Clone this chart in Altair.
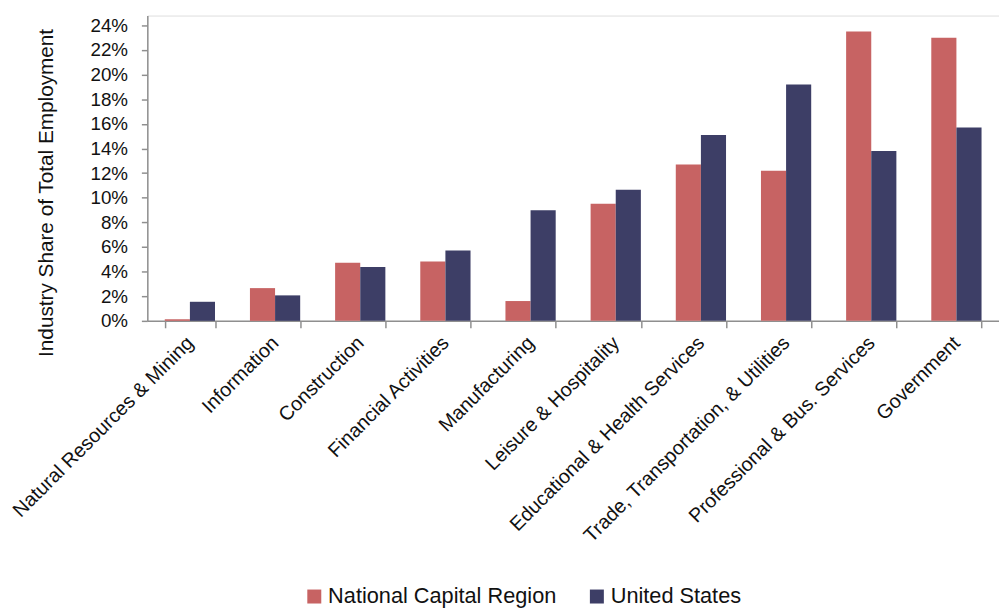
import altair as alt
import pandas as pd

categories = [
    "Natural Resources & Mining",
    "Information",
    "Construction",
    "Financial Activities",
    "Manufacturing",
    "Leisure & Hospitality",
    "Educational & Health Services",
    "Trade, Transportation, & Utilities",
    "Professional & Bus. Services",
    "Government",
]
series = ["National Capital Region", "United States"]
ncr_share = [0.13, 2.66, 4.73, 4.83, 1.61, 9.52, 12.7, 12.2, 23.5, 23.0]
us_share = [1.55, 2.07, 4.37, 5.72, 8.99, 10.65, 15.1, 19.2, 13.8, 15.7]
y_ticks = [0, 2, 4, 6, 8, 10, 12, 14, 16, 18, 20, 22, 24]
colors = ["#C76363", "#3D3E66"]

rows = []
for c, a, b in zip(categories, ncr_share, us_share):
    rows.append({"Industry": c, "Series": series[0], "Share": a / 100})
    rows.append({"Industry": c, "Series": series[1], "Share": b / 100})
df = pd.DataFrame(rows)

FONT = "Liberation Sans"
AXIS_GRAY = "#8f8f8f"

chart = (
    alt.Chart(df)
    .mark_bar()
    .encode(
        x=alt.X(
            "Industry:N",
            sort=categories,
            scale=alt.Scale(paddingInner=0.41, paddingOuter=0.205),
            axis=alt.Axis(
                title=None,
                labelAngle=-45,
                labelAlign="right",
                labelBaseline="middle",
                labelFontSize=20,
                labelColor="#111111",
                labelPadding=12,
                tickBand="extent",
                tickSize=7,
                tickColor=AXIS_GRAY,
                tickWidth=1.5,
                domainColor=AXIS_GRAY,
                domainWidth=1.5,
                labelLimit=400,
            ),
        ),
        xOffset=alt.XOffset(
            "Series:N", sort=series, scale=alt.Scale(paddingInner=0, paddingOuter=0)
        ),
        y=alt.Y(
            "Share:Q",
            scale=alt.Scale(domain=[0, 0.248], nice=False),
            axis=alt.Axis(
                title="Industry Share of Total Employment",
                titleFontSize=21,
                titleFontWeight="normal",
                titleColor="#111111",
                titlePadding=34,
                titleY=179,
                values=[v / 100 for v in y_ticks],
                format=".0%",
                labelFontSize=19,
                labelColor="#111111",
                labelPadding=14,
                tickSize=6,
                tickColor=AXIS_GRAY,
                tickWidth=1.5,
                domainColor=AXIS_GRAY,
                domainWidth=1.5,
                grid=False,
            ),
        ),
        color=alt.Color(
            "Series:N",
            sort=series,
            scale=alt.Scale(domain=series, range=colors),
            legend=alt.Legend(
                title=None,
                orient="none",
                direction="horizontal",
                legendX=158,
                legendY=577,
                symbolType="square",
                symbolSize=200,
                symbolStrokeWidth=0,
                labelFontSize=22,
                labelColor="#111111",
                labelLimit=400,
                columnPadding=29,
                labelOffset=3,
            ),
        ),
    )
    .properties(
        width=862,
        height=309,
        padding={"left": 0, "top": 4, "right": 0, "bottom": 0},
    )
    .configure_view(stroke=None)
    .configure(font=FONT)
)

chart.save("out.html", embed_options={"renderer": "svg", "actions": False})
